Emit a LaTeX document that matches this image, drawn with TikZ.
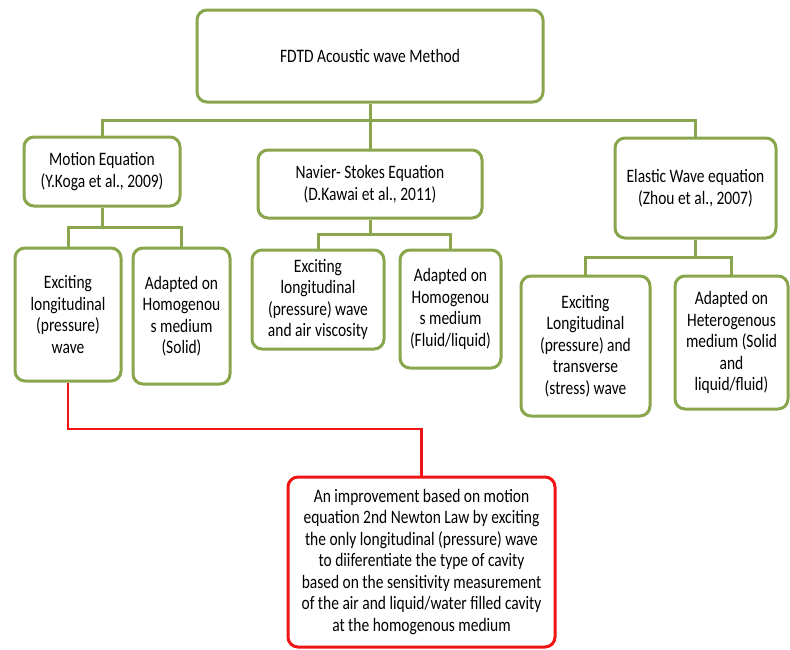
\documentclass[tikz,border=0pt]{standalone}
\usepackage{fontspec}
\setmainfont[FakeStretch=0.815]{Carlito}
\usetikzlibrary{positioning}

\definecolor{olive}{RGB}{137,166,76}
\definecolor{redline}{RGB}{240,20,20}

\tikzset{
	box/.style={draw=olive, line width=3pt, rounded corners=10pt, fill=white,
		align=center, inner sep=2pt, font=\fontsize{19}{21.5}\selectfont},
	redbox/.style={box, draw=redline},
	link/.style={draw=olive, line width=3pt},
	redlink/.style={draw=redline, line width=2.6pt}
}

\begin{document}
\begin{tikzpicture}[x=1pt, y=-1pt]
		\useasboundingbox (0,0) rectangle (790,649);

		\draw (370,56) node [box, minimum width=346pt, minimum height=92pt] (top) {FDTD Acoustic wave Method};
		\draw (102,171.5) node [box, minimum width=156pt, minimum height=69pt] (motion) {Motion Equation\\(Y.Koga et al., 2009)};
		\draw (370,184) node [box, minimum width=224pt, minimum height=68pt] (navier) {Navier- Stokes Equation\\(D.Kawai et al., 2011)};
		\draw (695.5,188) node [box, minimum width=161pt, minimum height=100pt] (elastic) {Elastic Wave equation\\(Zhou et al., 2007)};

		\draw (68,314.5) node [box, minimum width=106pt, minimum height=133pt] (exc1) {Exciting\\longitudinal\\(pressure)\\wave};
		\draw (181.5,316) node [box, minimum width=97pt, minimum height=136pt] (ada1) {Adapted on\\Homogenou\\s medium\\(Solid)};
		\draw (318,299.5) node [box, minimum width=132pt, minimum height=99pt] (exc2) {Exciting\\longitudinal\\(pressure) wave\\and air viscosity};
		\draw (450.5,309) node [box, minimum width=101pt, minimum height=118pt] (ada2) {Adapted on\\Homogenou\\s medium\\(Fluid/liquid)};
		\draw (585.5,346) node [box, minimum width=129pt, minimum height=140pt] (exc3) {Exciting\\Longitudinal\\(pressure) and\\transverse\\(stress) wave};
		\draw (731.5,342.5) node [box, minimum width=113pt, minimum height=133pt] (ada3) {Adapted on\\Heterogenous\\medium (Solid\\and\\liquid/fluid)};

		\draw (421.5,562) node [redbox, minimum width=267pt, minimum height=170pt] (imp) {An improvement based on motion\\equation 2nd Newton Law by exciting\\the only longitudinal (pressure) wave\\to diiferentiate the type of cavity\\based on the sensitivity measurement\\of the air and liquid/water filled cavity\\at the homogenous medium};

		\coordinate (bus) at (370,120);
		\coordinate (mbus) at (102,227);
		\coordinate (nbus) at (370,234);
		\coordinate (ebus) at (695.5,257);
		\coordinate (turn) at (68,429);

		\draw [link] (motion.north) |- (bus) -| (elastic.north);
		\draw [link] (top.south) -- (navier.north);
		\draw [link] (motion.south) -- (mbus);
		\draw [link] (exc1.north) |- (mbus) -| (ada1.north);
		\draw [link] (navier.south) -- (nbus);
		\draw [link] (exc2.north) |- (nbus) -| (ada2.north);
		\draw [link] (elastic.south) -- (ebus);
		\draw [link] (exc3.north) |- (ebus) -| (ada3.north);
		\draw [redlink] (exc1.south) -- (turn) -| (imp.north);
	\end{tikzpicture}
\end{document}
